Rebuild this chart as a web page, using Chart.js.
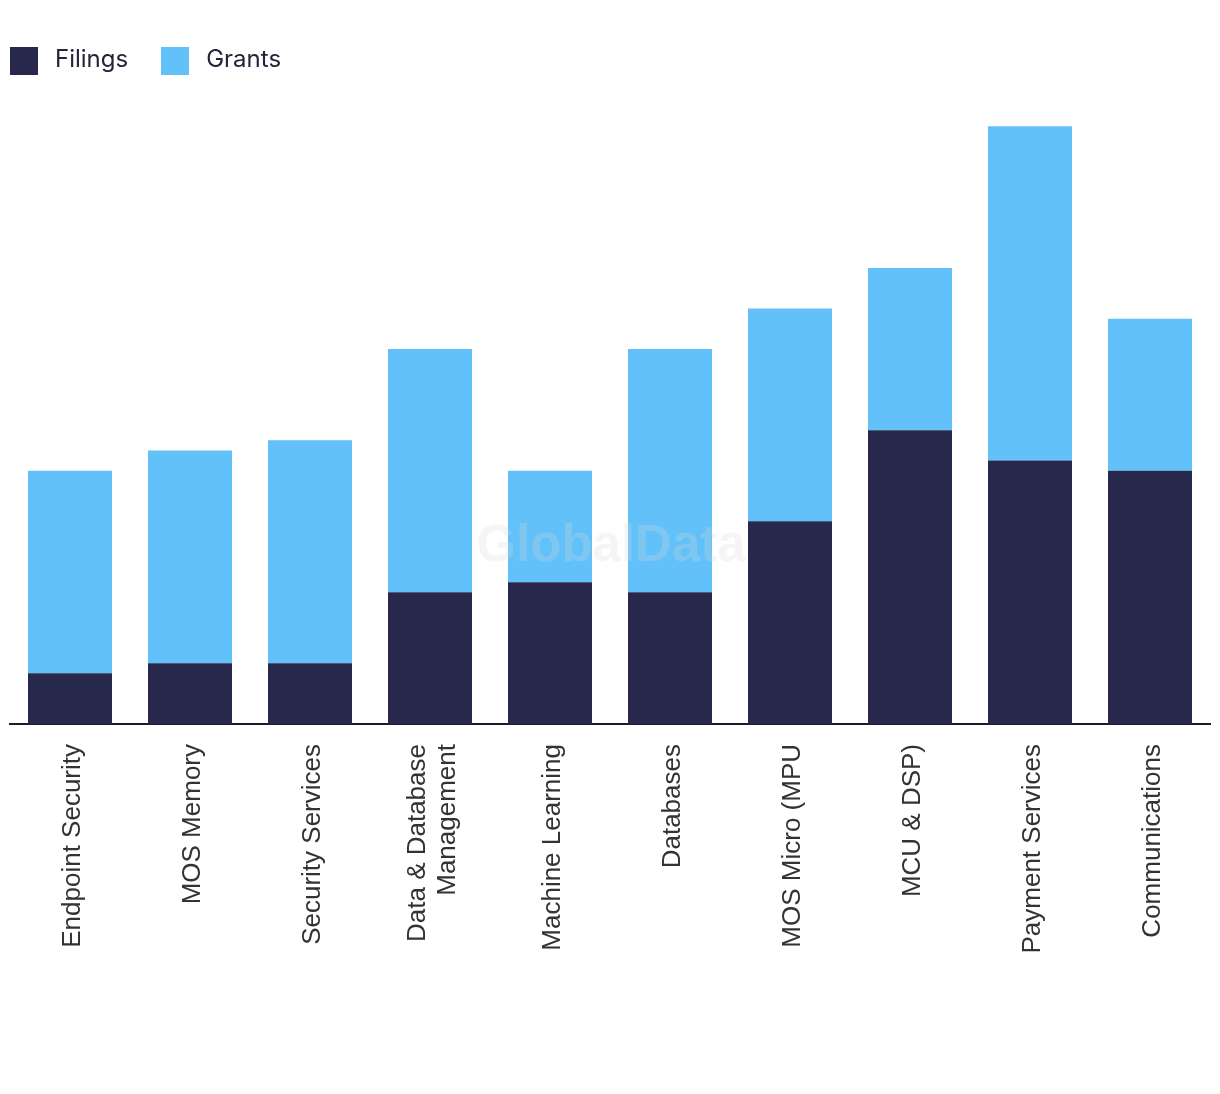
<!DOCTYPE html>
<html lang="en">
  <head>
    <meta charset="UTF-8" />
    <title>Filings and Grants</title>
    <script src="https://cdn.jsdelivr.net/npm/chart.js"></script>
    <style>
      body {
        margin: 0;
        background: #fff;
      }
      .wrap {
        position: relative;
        width: 1220px;
        height: 1094px;
      }
      /* legend on top of the canvas */
      .legend {
        position: absolute;
        left: 10px;
        top: 46px;
        display: flex;
        align-items: center;
        font-family: Inter, "Noto Sans", sans-serif;
        font-size: 24px;
        color: #23233a;
      }
      .legend .box {
        width: 28px;
        height: 28px;
        margin-right: 17px;
      }
      .legend .item {
        display: flex;
        align-items: center;
        margin-right: 33px;
      }
      .legend .item span {
        position: relative;
        top: -2px;
      }
    </style>
  </head>
  <body>
    <div class="wrap">
      <canvas id="chart" width="1220" height="1094"></canvas>
      <div class="legend">
        <div class="item"><div class="box" style="background: #27284c"></div><span>Filings</span></div>
        <div class="item"><div class="box" style="background: #62c1f9"></div><span>Grants</span></div>
      </div>
    </div>
  </body>
  <script>
    const categories = [
      "Endpoint Security",
      "MOS Memory",
      "Security Services",
      ["Data & Database", "Management"],
      "Machine Learning",
      "Databases",
      "MOS Micro (MPU",
      "MCU & DSP)",
      "Payment Services",
      "Communications",
    ];
    const filings = [5, 6, 6, 13, 14, 13, 20, 29, 26, 25];
    const grants = [20, 21, 22, 24, 11, 24, 21, 16, 33, 15];

    const navy = "#27284c";
    const sky = "#62c1f9";
    const labelSize = 26;
    const labelLine = 1.15;

    // faint watermark over the bars
    const watermark = {
      id: "watermark",
      afterDatasetsDraw(chart) {
        const { ctx } = chart;
        ctx.save();
        ctx.font = "bold 51px 'Liberation Sans', Arial, sans-serif";
        ctx.fillStyle = "rgba(215, 215, 215, 0.25)";
        ctx.textAlign = "center";
        ctx.textBaseline = "middle";
        ctx.fillText("GlobalData", 611, 547);
        ctx.restore();
      },
    };

    // rotated two-line labels: centre the block on the tick
    const centerMultiline = {
      id: "centerMultiline",
      beforeDraw(chart) {
        chart.scales.x.getLabelItems().forEach((item) => {
          if (Array.isArray(item.label) && !item._shifted) {
            item.options.translation[0] -= ((item.label.length - 1) * labelSize * labelLine) / 2;
            item._shifted = true;
          }
        });
      },
    };

    new Chart(document.getElementById("chart"), {
      type: "bar",
      data: {
        labels: categories,
        datasets: [
          { label: "Filings", data: filings, backgroundColor: navy },
          { label: "Grants", data: grants, backgroundColor: sky },
        ],
      },
      options: {
        responsive: false,
        animation: false,
        layout: { padding: { top: 116, left: 10, right: 10, bottom: 0 } },
        datasets: {
          bar: { barPercentage: 0.7, categoryPercentage: 1 },
        },
        plugins: {
          legend: { display: false },
          tooltip: { enabled: false },
        },
        scales: {
          x: {
            stacked: true,
            grid: { display: false, drawTicks: false },
            border: { display: true, color: "#1b1b2c", width: 2 },
            ticks: {
              minRotation: 90,
              maxRotation: 90,
              padding: 20,
              labelOffset: 3,
              color: "#333333",
              font: { family: "'Liberation Sans', Arial, sans-serif", size: labelSize, lineHeight: labelLine },
            },
            afterFit(scale) {
              scale.height = 370;
            },
          },
          y: {
            stacked: true,
            display: false,
            min: 0,
            max: 60,
          },
        },
      },
      plugins: [watermark, centerMultiline],
    });
  </script>
</html>
